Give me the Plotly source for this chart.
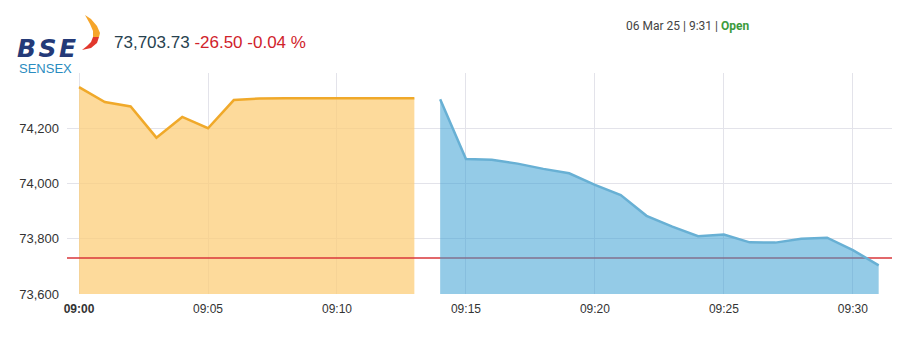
import plotly.graph_objects as go

# ---- data ----
pre_times = ["09:00", "09:01", "09:02", "09:03", "09:04", "09:05", "09:06",
             "09:07", "09:08", "09:09", "09:10", "09:11", "09:12", "09:13"]
pre_values = [74349, 74295, 74279, 74166, 74241, 74200, 74302,
              74308, 74309, 74309, 74309, 74309, 74309, 74309]

mkt_times = ["09:14", "09:15", "09:16", "09:17", "09:18", "09:19", "09:20",
             "09:21", "09:22", "09:23", "09:24", "09:25", "09:26", "09:27",
             "09:28", "09:29", "09:30", "09:31"]
mkt_values = [74305, 74089, 74086, 74072, 74053, 74037, 73995,
              73958, 73883, 73844, 73809, 73815, 73787, 73786,
              73800, 73804, 73759, 73703.73]

prev_close = 73730.23
x_ticks = ["09:00", "09:05", "09:10", "09:15", "09:20", "09:25", "09:30"]
y_ticks = [73600, 73800, 74000, 74200, 74400]
y_tick_labels = ["73,600", "73,800", "74,000", "74,200", ""]

last_value = "73,703.73"
change_text = "-26.50 -0.04 %"
date_text = "06 Mar 25 | 9:31 | "
status_text = "Open"

DAY = "2025-03-06 "
def ts(t):
    return DAY + t + ":00"

W, H = 917, 337
L, R, T, B = 67, 25, 73, 43
PW, PH = W - L - R, H - T - B
def px(x):
    return (x - L) / PW
def py(y):
    return (H - B - y) / PH

fig = go.Figure()

fig.add_trace(go.Scatter(
    x=[ts(t) for t in pre_times], y=pre_values, mode="lines",
    line=dict(color="#f0a92a", width=2.5),
    fill="tozeroy", fillcolor="rgba(252,206,122,0.75)",
    hoverinfo="skip", showlegend=False))

fig.add_trace(go.Scatter(
    x=[DAY + "08:59:32", DAY + "09:31:31"], y=[prev_close, prev_close],
    mode="lines", line=dict(color="#d9363a", width=1.6),
    hoverinfo="skip", showlegend=False))

fig.add_trace(go.Scatter(
    x=[ts(t) for t in mkt_times], y=mkt_values, mode="lines",
    line=dict(color="#68b0d4", width=2.5),
    fill="tozeroy", fillcolor="rgba(60,160,212,0.55)",
    hoverinfo="skip", showlegend=False))

tick_text = ["<b>09:00</b>"] + x_ticks[1:]

fig.update_xaxes(
    type="date", range=[DAY + "08:59:32", DAY + "09:31:31"],
    tickvals=[ts(t) for t in x_ticks], ticktext=tick_text,
    showgrid=True, gridcolor="#e3e3ea", gridwidth=1,
    showline=False, zeroline=False, ticks="",
    tickfont=dict(family="Liberation Sans, Arial", size=12, color="#333333"),
    ticklabelstandoff=6)
fig.update_yaxes(
    range=[73600, 74400], tickvals=y_ticks, ticktext=y_tick_labels,
    showgrid=True, gridcolor="#e3e3ea", gridwidth=1,
    showline=False, zeroline=False, ticks="",
    tickfont=dict(family="Liberation Sans, Arial", size=13, color="#333333"),
    ticklabelstandoff=7)

annotations = [
    dict(x=px(112), y=py(42), xref="paper", yref="paper", xanchor="left", yanchor="middle",
         text=f"<span style='color:#27424f'>{last_value}</span> "
              f"<span style='color:#d0222b'>{change_text}</span>",
         showarrow=False, font=dict(family="Liberation Sans, Arial", size=17)),
    dict(x=px(624), y=py(25.5), xref="paper", yref="paper", xanchor="left", yanchor="middle",
         text=f"<span style='color:#444444'>{date_text}</span>"
              f"<b><span style='color:#3c9b3c'>{status_text}</span></b>",
         showarrow=False, font=dict(family="Roboto, Liberation Sans", size=12)),
    dict(x=px(15), y=py(49), xref="paper", yref="paper", xanchor="left", yanchor="middle",
         text="<b><i>B\u200aS\u200aE</i></b>", showarrow=False,
         font=dict(family="DejaVu Sans", size=25, color="#243a78")),
    dict(x=px(17), y=py(68), xref="paper", yref="paper", xanchor="left", yanchor="middle",
         text="SENSEX", showarrow=False,
         font=dict(family="Liberation Sans, Arial", size=13, color="#2a8cc0")),
]

def path(points):
    s = "M " + " L ".join(f"{px(x)},{py(y)}" for x, y in points) + " Z"
    return s

shapes = [
    dict(type="path", xref="paper", yref="paper",
         path=path([(85, 15), (91, 19), (97, 26), (100, 33), (99, 37), (93, 37),
                    (93, 31), (90, 24)]),
         fillcolor="#f6a52a", line=dict(width=0)),
    dict(type="path", xref="paper", yref="paper",
         path=path([(93, 37), (99, 37), (97, 43), (91, 48), (82, 50), (87, 46),
                    (91, 42)]),
         fillcolor="#e1372c", line=dict(width=0)),
]

fig.update_layout(
    width=W, height=H, margin=dict(l=L, r=R, t=T, b=B),
    paper_bgcolor="white", plot_bgcolor="white",
    annotations=annotations, shapes=shapes, showlegend=False)

fig.write_html("out.html")
